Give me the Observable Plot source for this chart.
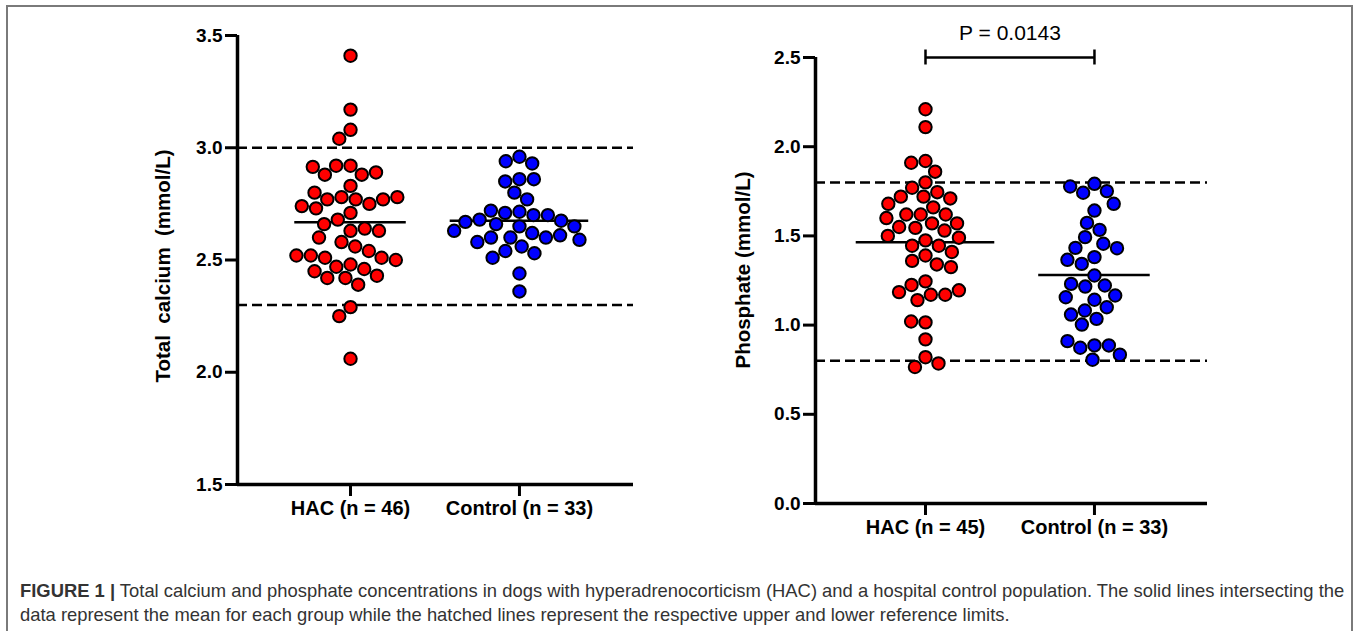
<!DOCTYPE html>
<html><head><meta charset="utf-8">
<script src="https://cdn.jsdelivr.net/npm/d3@7"></script>
<script src="https://cdn.jsdelivr.net/npm/@observablehq/plot@0.6"></script>
<style>
body{margin:0;background:#fff;}
#fig{position:relative;width:1357px;height:631px;overflow:hidden;font-family:"Liberation Sans",Arial,sans-serif;background:#fff;}
#border{position:absolute;left:6px;top:5px;width:1343px;height:660px;border:2px solid #7a7a7a;}
.panel{position:absolute;top:0;}
.ytitle{position:absolute;font-weight:bold;font-size:20.5px;white-space:pre;transform:translate(-50%,-50%) rotate(-90deg);color:#000;}
#caption{position:absolute;left:20px;top:579px;font-size:18.4px;line-height:24px;color:#333;white-space:nowrap;}
</style></head>
<body>
<div id="fig">
  <div id="border"></div>
  <div id="left" class="panel" style="left:0px"></div>
  <div id="right" class="panel" style="left:680px"></div>
  <div class="ytitle" style="left:163px;top:266px">Total  calcium  (mmol/L)</div>
  <div class="ytitle" style="left:743px;top:270px">Phosphate (mmol/L)</div>
  <div id="caption"><b>FIGURE 1 |</b> Total calcium and phosphate concentrations in dogs with hyperadrenocorticism (HAC) and a hospital control population. The solid lines intersecting the<br>data represent the mean for each group while the hatched lines represent the respective upper and lower reference limits.</div>
</div>
<script>
// ---- data ----
const calciumGroups = ["HAC (n = 46)", "Control (n = 33)"];
const calciumHAC = [3.41, 3.17, 3.08, 3.04, 2.92, 2.92, 2.88, 2.89, 2.88, 2.915, 2.83, 2.78, 2.77, 2.75, 2.77, 2.77, 2.80, 2.78, 2.73, 2.74, 2.71, 2.68, 2.63, 2.64, 2.66, 2.63, 2.58, 2.60, 2.56, 2.54, 2.48, 2.47, 2.51, 2.51, 2.52, 2.50, 2.52, 2.46, 2.42, 2.42, 2.45, 2.39, 2.43, 2.29, 2.25, 2.06];
const calciumControl = [2.96, 2.94, 2.93, 2.86, 2.85, 2.86, 2.80, 2.77, 2.715, 2.71, 2.70, 2.70, 2.72, 2.68, 2.675, 2.67, 2.66, 2.65, 2.65, 2.62, 2.60, 2.60, 2.63, 2.60, 2.61, 2.58, 2.59, 2.56, 2.54, 2.53, 2.51, 2.44, 2.36];
const calciumRefLimits = [2.3, 3.0];
const calciumTicks = [1.5, 2.0, 2.5, 3.0, 3.5];

const phosphateGroups = ["HAC (n = 45)", "Control (n = 33)"];
const phosphateHAC = [2.21, 2.11, 1.92, 1.91, 1.86, 1.80, 1.77, 1.72, 1.745, 1.72, 1.71, 1.66, 1.68, 1.62, 1.62, 1.62, 1.57, 1.545, 1.55, 1.57, 1.53, 1.60, 1.50, 1.475, 1.49, 1.445, 1.445, 1.41, 1.39, 1.36, 1.34, 1.325, 1.245, 1.225, 1.17, 1.17, 1.14, 1.185, 1.195, 1.015, 1.02, 0.92, 0.82, 0.765, 0.785];
const phosphateControl = [1.792, 1.742, 1.751, 1.777, 1.642, 1.68, 1.573, 1.534, 1.493, 1.456, 1.433, 1.431, 1.381, 1.343, 1.366, 1.278, 1.216, 1.222, 1.231, 1.166, 1.142, 1.156, 1.082, 1.10, 1.035, 1.059, 1.003, 0.886, 0.873, 0.886, 0.91, 0.834, 0.806];
const phosphateRefLimits = [0.8, 1.8];
const phosphateTicks = [0.0, 0.5, 1.0, 1.5, 2.0, 2.5];
const pValueLabel = "P = 0.0143";

// ---- styles ----
const groupColors = ["#ff0000", "#0000ff"];
const R = 6.2;

function swarm(values, gi) {
  const rows = values.map(v => ({g: gi, v}));
  return Plot.dot(rows, Plot.initializer(
    Plot.dodgeX({y: "v", anchor: "middle", padding: 2, r: R, fill: groupColors[gi], stroke: "black", strokeWidth: 2}),
    (data, facets, channels, scales, dims) => {
      const mid = (dims.marginLeft + dims.width - dims.marginRight) / 2;
      const cx = scales.x(gi);
      return {data, facets, channels: {x: {value: Float64Array.from(channels.x.value, x => x - mid + cx), source: null}}};
    }
  ));
}

function panel(o) {
  const idx = o.series.map((_, i) => i);
  const marks = [
    Plot.ruleY(o.refs, {strokeDasharray: "10,5", strokeWidth: 2.5}),
    Plot.ruleY(idx, {y: i => d3.mean(o.series[i]), x1: i => i - o.meanHalf[i], x2: i => i + o.meanHalf[i], strokeWidth: 2.5}),
    ...o.series.map((vals, i) => swarm(vals, i)),
    Plot.ruleX([o.xDomain[0]], {strokeWidth: 3.5}),
    Plot.ruleY([o.yDomain[0]], {strokeWidth: 3.5}),
    Plot.axisY(o.yTicks, {tickFormat: d3.format(".1f"), tickSize: 12, tickPadding: 3, fontSize: 19, fontWeight: "bold", strokeWidth: 3, label: null}),
    Plot.axisX(idx, {tickFormat: i => o.groups[i], tickSize: 12, tickPadding: 4, fontSize: 20, fontWeight: "bold", strokeWidth: 3, label: null})
  ];
  if (o.pValue) {
    marks.push(
      Plot.ruleY([o.yDomain[1]], {x1: 0, x2: 1, strokeWidth: 2.5}),
      Plot.ruleX(idx, {x: d => d, y1: o.yDomain[1] - 0.042, y2: o.yDomain[1] + 0.042, strokeWidth: 2.5, clip: false}),
      Plot.text([o.pValue], {x: 0.5, y: o.yDomain[1], dy: -24, fontSize: 21, fill: "black"})
    );
  }
  return Plot.plot({
    width: o.width, height: o.height,
    marginLeft: o.marginLeft, marginRight: o.marginRight, marginTop: o.marginTop, marginBottom: o.marginBottom,
    style: {fontFamily: "'Liberation Sans', Arial, sans-serif", overflow: "visible", background: "transparent", color: "black"},
    x: {domain: o.xDomain},
    y: {domain: o.yDomain},
    marks
  });
}

document.getElementById("left").append(panel({
  groups: calciumGroups, series: [calciumHAC, calciumControl], refs: calciumRefLimits,
  yTicks: calciumTicks, yDomain: [1.5, 3.5], xDomain: [-0.669, 1.675], meanHalf: [0.33, 0.41],
  width: 680, height: 540, marginLeft: 237, marginRight: 47, marginTop: 35, marginBottom: 56
}));
document.getElementById("right").append(panel({
  groups: phosphateGroups, series: [phosphateHAC, phosphateControl], refs: phosphateRefLimits,
  yTicks: phosphateTicks, yDomain: [0, 2.5], xDomain: [-0.651, 1.669], meanHalf: [0.41, 0.33],
  width: 677, height: 560, marginLeft: 135, marginRight: 150, marginTop: 57, marginBottom: 57,
  pValue: pValueLabel
}));
</script>
</body></html>
